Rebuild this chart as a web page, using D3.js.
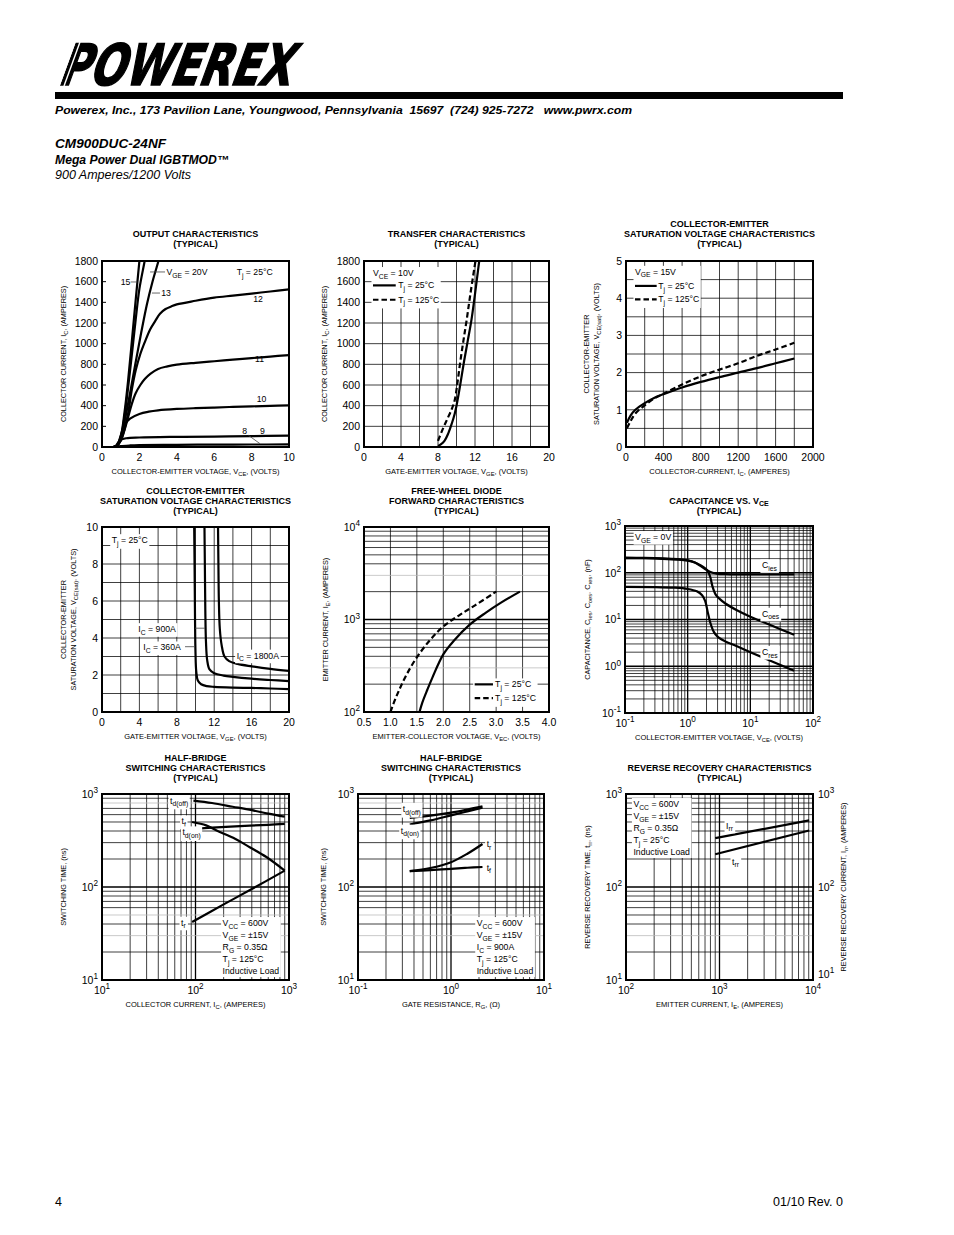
<!DOCTYPE html>
<meta charset="utf-8">
<style>
body{margin:0;background:#fff;}
svg{font-family:"Liberation Sans",Arial,Helvetica,sans-serif;}
text{white-space:pre;}
.title{font-size:9px;font-weight:bold;text-anchor:middle;}
.curve{fill:none;stroke:#000;stroke-width:2.2;stroke-linejoin:round;}
.dash{stroke-dasharray:5.5,3;}
.frame{fill:none;stroke:#000;stroke-width:2;}
.lead{stroke:#444;stroke-width:0.8;}
</style>
<body>
<script src="https://d3js.org/d3.v7.min.js"></script>
<script>
// ---- output characteristics (VCE, IC) ----
var outXTicks=[0,2,4,6,8,10];
var outYTicks=[0,200,400,600,800,1000,1200,1400,1600,1800];
var out20=[[0.6,0],[0.8,15],[1.0,100],[1.2,330],[1.4,650],[1.6,1030],[1.8,1420],[2.0,1800],[2.03,1860]];
var out15=[[0.6,0],[0.8,15],[1.0,90],[1.2,290],[1.4,580],[1.6,900],[1.8,1230],[2.0,1530],[2.28,1800],[2.32,1850]];
var out13=[[0.6,0],[0.8,15],[1.0,80],[1.2,240],[1.5,520],[1.8,820],[2.1,1110],[2.4,1380],[2.7,1600],[3.02,1800],[3.08,1840]];
var out12=[[0.6,0],[0.8,12],[1.0,60],[1.2,170],[1.4,330],[1.6,560],[1.8,740],[2.05,900],[2.3,1020],[2.58,1140],[2.85,1220],[3.1,1290],[3.4,1335],[3.7,1360],[4.0,1380],[5,1415],[6,1445],[7,1465],[8,1485],[9,1505],[10,1525]];
var out11=[[0.6,0],[0.8,12],[1.0,60],[1.2,160],[1.4,290],[1.6,420],[1.8,520],[2.05,600],[2.3,660],[2.6,710],[3.0,755],[3.5,780],[4.0,797],[5,815],[6,830],[7,845],[8,860],[9,875],[10,890]];
var out10=[[0.6,0],[0.8,15],[1.0,110],[1.2,215],[1.5,275],[2.0,320],[2.5,342],[3.0,355],[4,368],[5,376],[6,382],[7,388],[8,393],[9,398],[10,402]];
var out9=[[0.7,0],[0.85,40],[1.0,70],[1.3,85],[2,92],[4,98],[6,101],[8,105],[10,110]];
var out8=[[0.8,0],[1.0,8],[1.5,15],[2,18],[4,21],[6,23],[8,24],[10,25]];
var outLeaders=[[2.57,1694,3.37,1694],[1.53,1597,1.89,1597],[2.67,1490,3.1,1490],[7.83,113,8.45,32]];

// ---- transfer characteristics (VGE, IC) ----
var trXTicks=[0,4,8,12,16,20];
var trYTicks=[0,200,400,600,800,1000,1200,1400,1600,1800];
var tr25=[[8.0,10],[8.3,25],[8.7,60],[9.1,130],[9.5,230],[9.8,320],[10.0,400],[10.4,600],[10.8,820],[11.2,1020],[11.6,1220],[12.0,1480],[12.3,1690],[12.5,1830]];
var tr125=[[8.0,60],[8.5,170],[9.0,270],[9.5,370],[9.8,450],[10.1,620],[10.4,820],[10.75,1030],[11.1,1230],[11.5,1480],[12.05,1800],[12.1,1830]];

// ---- VCE(sat) vs IC ----
var satIXTicks=[0,400,800,1200,1600,2000];
var satIYTicks=[0,1,2,3,4,5];
var satI25=[[10,0.65],[50,0.85],[100,1.0],[200,1.18],[300,1.32],[400,1.42],[600,1.6],[800,1.75],[1000,1.88],[1200,2.0],[1400,2.12],[1600,2.25],[1800,2.38]];
var satI125=[[10,0.5],[50,0.7],[100,0.9],[200,1.12],[300,1.3],[400,1.43],[600,1.68],[800,1.9],[1000,2.08],[1200,2.25],[1400,2.45],[1600,2.62],[1800,2.8]];

// ---- VCE(sat) vs VGE ----
var satVXTicks=[0,4,8,12,16,20];
var satVYTicks=[0,2,4,6,8,10];
var satV360=[[9.85,10.5],[9.9,8],[9.95,5],[10.0,3.2],[10.08,2.2],[10.25,1.7],[10.6,1.5],[11.2,1.4],[12,1.36],[14,1.32],[16,1.3],[18,1.27],[20,1.24]];
var satV900=[[10.95,10.5],[11.0,8],[11.05,5.5],[11.12,3.8],[11.25,2.8],[11.5,2.3],[12,2.1],[13,1.97],[14,1.9],[16,1.8],[18,1.73],[20,1.67]];
var satV1800=[[12.4,10.5],[12.45,8],[12.5,6],[12.6,4.5],[12.8,3.6],[13.1,3.0],[13.6,2.75],[14.5,2.6],[16,2.47],[18,2.33],[20,2.22]];
var satVLeaders=[[9.95,4.53,11.0,4.53],[8.88,3.53,9.87,3.53]];

// ---- free-wheel diode forward (VEC, IE) ----
var fwdXTicks=[0.5,1.0,1.5,2.0,2.5,3.0,3.5,4.0];
var fwdYTicks=[100,1000,10000];
var fwdGrayRows=[300,3000];
var fwd25=[[1.55,100],[1.6,125],[1.7,175],[1.8,240],[2.0,420],[2.2,590],[2.5,880],[2.8,1180],[3.1,1530],[3.45,2000]];
var fwd125=[[1.0,100],[1.05,120],[1.15,165],[1.3,250],[1.5,390],[1.75,600],[2.0,840],[2.3,1110],[2.6,1420],[3.0,2000]];

// ---- capacitance vs VCE ----
var capXTicks=[0.1,1,10,100];
var capYTicks=[0.1,1,10,100,1000];
var capIes=[[0.1,210],[0.2,208],[0.4,203],[0.7,195],[1.0,185],[1.3,165],[1.6,140],[2.0,115],[2.5,100],[3.0,95],[4,93],[6,92],[10,92],[20,92],[50,92]];
var capOes=[[0.1,206],[0.2,204],[0.4,199],[0.7,191],[1.0,181],[1.3,165],[1.6,145],[1.9,125],[2.1,108],[2.3,80],[2.5,50],[2.8,34],[3.2,28],[4,22],[6,16],[10,11.5],[20,7.8],[50,4.7]];
var capRes=[[0.1,50],[0.3,49.5],[0.6,48],[1.0,45],[1.4,40],[1.7,33],[1.9,25],[2.1,14],[2.3,8.5],[2.6,5.5],[3.0,4.3],[4,3.4],[6,2.7],[10,2.0],[20,1.35],[50,0.8]];

// ---- switching time vs IC ----
var swXTicks=[10,100,1000];
var swYTicks=[10,100,1000];
var swGrayRows=[30,50,800];
var swTdoff=[[95,850],[150,800],[250,730],[400,670],[600,615],[900,570]];
var swTf=[[92,500],[130,460],[168,405],[253,338],[380,268],[573,210],[900,150]];
var swTdon=[[92,420],[150,435],[300,452],[600,466],[900,478]];
var swTr=[[92,42],[200,65],[400,95],[900,150]];

// ---- switching time vs RG ----
var rgXTicks=[0.1,1,10];
var rgTdoff=[[0.36,553],[0.6,585],[1.0,630],[1.5,680],[2.18,735]];
var rgTdon=[[0.36,470],[0.6,520],[1.0,590],[1.5,650],[2.18,712]];
var rgTr=[[0.36,148],[0.6,160],[1.0,185],[1.5,228],[2.18,290]];
var rgTf=[[0.36,148],[0.6,152],[1.0,157],[1.5,161],[2.18,164]];

// ---- reverse recovery ----
var rrXTicks=[100,1000,10000];
var rrYTicks=[10,100,1000];
var rrGrayRows=[30];
var rrIrr=[[900,335],[9100,520]];
var rrTrr=[[900,225],[9100,405]];

var svg=d3.select("body").append("svg").attr("width",954).attr("height",1235);
var clipN=0;

// text with _{sub} and ^{sup}
function rich(t,s,fs){
  var parts=s.split(/(_\{[^}]*\}|\^\{[^}]*\})/).filter(function(p){return p;});
  var cur=0;
  parts.forEach(function(p){
    var off=0,txt=p,small=false;
    if(p.indexOf("_{")==0){off=fs*0.3;txt=p.slice(2,-1);small=true;}
    else if(p.indexOf("^{")==0){off=-fs*0.42;txt=p.slice(2,-1);small=true;}
    var ts=t.append("tspan").text(txt);
    if(off-cur!=0) ts.attr("dy",off-cur);
    if(small) ts.attr("font-size",fs*0.78);
    cur=off;
  });
  return t;
}

function expLabel(d){ return "10^{"+Math.round(Math.log10(d))+"}"; }

function panel(p){
  var x=(p.xLog?d3.scaleLog():d3.scaleLinear()).domain(p.xDom).range([p.left,p.left+p.w]);
  var y=(p.yLog?d3.scaleLog():d3.scaleLinear()).domain(p.yDom).range([p.top+p.h,p.top]);
  var id="clip"+(clipN++);
  svg.append("clipPath").attr("id",id).append("rect")
     .attr("x",p.left).attr("y",p.top).attr("width",p.w).attr("height",p.h);
  var g=svg.append("g");
  var pn={x:x,y:y,p:p,grid:g.append("g"),curves:g.append("g").attr("clip-path","url(#"+id+")"),
          labels:g.append("g"),frame:g.append("g")};
  var major=function(d){var l=Math.log10(d);return Math.abs(l-Math.round(l))<1e-6;};
  var near=function(arr,d){return (arr||[]).some(function(v){return Math.abs(v-d)/v<1e-6;});};
  if(p.grid){
    var xs=(p.xLog?x.ticks():x.ticks(p.xGridN)).filter(function(d){return x(d)>p.left+0.5&&x(d)<p.left+p.w-0.5;});
    var ys=(p.yLog?y.ticks():y.ticks(p.yGridN)).filter(function(d){return y(d)<p.top+p.h-0.5&&y(d)>p.top+0.5;});
    pn.grid.selectAll(".gx").data(xs).join("line").attr("class","gx")
      .attr("x1",function(d){return x(d);}).attr("x2",function(d){return x(d);})
      .attr("y1",p.top).attr("y2",p.top+p.h).attr("stroke","#000")
      .attr("stroke-width",function(d){return p.xLog&&major(d)?1.3:0.75;});
    pn.grid.selectAll(".gy").data(ys).join("line").attr("class","gy")
      .attr("y1",function(d){return y(d);}).attr("y2",function(d){return y(d);})
      .attr("x1",p.left).attr("x2",p.left+p.w)
      .attr("stroke",function(d){return near(p.grayY,d)?"#b8b8b8":"#000";})
      .attr("stroke-width",function(d){return p.yLog&&major(d)?1.3:0.75;});
  }
  if(p.yInTicks){
    pn.grid.selectAll(".ti").data(p.yInTicks).join("line").attr("class","ti")
      .attr("x1",p.left).attr("x2",p.left+4).attr("y1",function(d){return y(d);}).attr("y2",function(d){return y(d);})
      .attr("stroke","#000").attr("stroke-width",1);
  }
  var fs=10.5;
  p.xTicks.forEach(function(d){
    var t=pn.frame.append("text").attr("x",x(d)).attr("y",p.top+p.h+13.5)
      .attr("text-anchor","middle").attr("font-size",fs);
    rich(t,p.xLog?expLabel(d):(p.xFmt?p.xFmt(d):String(d)),fs);
  });
  p.yTicks.forEach(function(d,i){
    var t=pn.frame.append("text").attr("x",p.left-4).attr("y",y(d)).attr("dy","0.36em")
      .attr("text-anchor","end").attr("font-size",fs);
    rich(t,p.yLog?expLabel(d):String(d),fs);
    if(p.rightAxis){
      // lowest right label sits a little above the corner, clear of the x labels
      var r=pn.frame.append("text").attr("x",p.left+p.w+5).attr("y",y(d)-(i==0?6:0)).attr("dy","0.36em")
        .attr("font-size",fs);
      rich(r,expLabel(d),fs);
    }
  });
  pn.frame.append("rect").attr("class","frame").attr("x",p.left).attr("y",p.top).attr("width",p.w).attr("height",p.h);
  // titles
  var cx=p.left+p.w/2;
  var n=p.title.length;
  p.title.forEach(function(s,i){
    var t=svg.append("text").attr("class","title").attr("x",cx).attr("y",p.titleBase-(n-1-i)*10);
    rich(t,s,9);
  });
  var xl=svg.append("text").attr("x",cx).attr("y",p.top+p.h+26.5).attr("text-anchor","middle").attr("font-size",7.5);
  rich(xl,p.xLabel,7.5);
  var cy=p.top+p.h/2;
  p.yLabel.forEach(function(s,i){
    var t=svg.append("text").attr("transform","translate("+(p.yLabelX+i*10+2.5)+","+cy+") rotate(-90)")
      .attr("text-anchor","middle").attr("font-size",7.3);
    rich(t,s,7.3);
  });
  if(p.rightLabel){
    var t=svg.append("text").attr("transform","translate("+(p.rightLabelX+2.5)+","+cy+") rotate(-90)")
      .attr("text-anchor","middle").attr("font-size",7.3);
    rich(t,p.rightLabel,7.3);
  }
  return pn;
}

var line=d3.line().curve(d3.curveCatmullRom.alpha(0.5));
function curve(pn,data,dashed){
  pn.curves.append("path").datum(data).attr("class","curve"+(dashed?" dash":""))
    .attr("d",line.x(function(d){return pn.x(d[0]);}).y(function(d){return pn.y(d[1]);}));
}
function boxIt(g){
  var b=g.node().getBBox();
  g.insert("rect",":first-child").attr("x",b.x-1.5).attr("y",b.y-1).attr("width",b.width+3).attr("height",b.height+2).attr("fill","#fff");
}
function note(pn,xv,yv,lines,o){
  o=o||{};
  var fs=o.fs||8.7,lh=o.lh||12;
  var g=pn.labels.append("g");
  lines.forEach(function(s,i){
    var t=g.append("text").attr("x",pn.x(xv)).attr("y",pn.y(yv)+i*lh).attr("dy","0.35em").attr("font-size",fs);
    rich(t,s,fs);
  });
  if(o.box) boxIt(g);
  return g;
}
function leader(pn,l){
  pn.labels.append("line").attr("class","lead")
    .attr("x1",pn.x(l[0])).attr("y1",pn.y(l[1])).attr("x2",pn.x(l[2])).attr("y2",pn.y(l[3]));
}
// legend: head line then rows of [yValue, text, dashed]
function legend(pn,x0,x1,xt,head,rows){
  var g=pn.labels.append("g");
  var t=g.append("text").attr("x",pn.x(x0)).attr("y",pn.y(head[1])).attr("dy","0.35em").attr("font-size",8.7);
  if(head[0]) rich(t,head[0],8.7);
  rows.forEach(function(r){
    g.append("line").attr("class","curve"+(r[2]?" dash":"")).attr("x1",pn.x(x0)).attr("x2",pn.x(x1))
      .attr("y1",pn.y(r[0])).attr("y2",pn.y(r[0]));
    var tt=g.append("text").attr("x",pn.x(xt)).attr("y",pn.y(r[0])).attr("dy","0.35em").attr("font-size",8.7);
    rich(tt,r[1],8.7);
  });
  boxIt(g);
}

// ---------- header ----------
svg.append("text").attr("transform","translate(57,85) skewX(-20)")
  .attr("font-family","DejaVu Sans").attr("font-weight","bold").attr("font-size",57)
  .attr("stroke","#000").attr("stroke-width",1.6)
  .attr("textLength",232).attr("lengthAdjust","spacingAndGlyphs").text("POWEREX");
[0,1,2,3,4].forEach(function(i){
  svg.append("line").attr("x1",44+i*5).attr("y1",86).attr("x2",60+i*5).attr("y2",42)
    .attr("stroke","#fff").attr("stroke-width",1.4);
});
svg.append("rect").attr("x",55).attr("y",92).attr("width",788).attr("height",7).attr("fill","#000");
svg.append("text").attr("x",55).attr("y",114).attr("font-size",11.5).attr("font-weight","bold").attr("font-style","italic")
  .attr("textLength",577).attr("lengthAdjust","spacingAndGlyphs")
  .text("Powerex, Inc., 173 Pavilion Lane, Youngwood, Pennsylvania  15697  (724) 925-7272   www.pwrx.com");
svg.append("text").attr("x",55).attr("y",148).attr("font-size",12).attr("font-weight","bold").attr("font-style","italic")
  .attr("textLength",111).attr("lengthAdjust","spacingAndGlyphs").text("CM900DUC-24NF");
svg.append("text").attr("x",55).attr("y",164).attr("font-size",12).attr("font-weight","bold").attr("font-style","italic")
  .attr("textLength",174).attr("lengthAdjust","spacingAndGlyphs").text("Mega Power Dual IGBTMOD\u2122");
svg.append("text").attr("x",55).attr("y",179).attr("font-size",12).attr("font-style","italic")
  .attr("textLength",136).attr("lengthAdjust","spacingAndGlyphs").text("900 Amperes/1200 Volts");
svg.append("text").attr("x",55).attr("y",1206).attr("font-size",12.5).text("4");
svg.append("text").attr("x",843).attr("y",1206).attr("font-size",12.5).attr("text-anchor","end")
  .attr("font-family","Liberation Sans Narrow, Liberation Sans").text("01/10 Rev. 0");

// ---------- 1 output characteristics ----------
var p1=panel({left:102,top:261,w:187,h:186,xDom:[0,10],yDom:[0,1800],xTicks:outXTicks,yTicks:outYTicks,yInTicks:outYTicks,
  title:["OUTPUT CHARACTERISTICS","(TYPICAL)"],titleBase:246.5,
  xLabel:"COLLECTOR-EMITTER VOLTAGE, V_{CE}, (VOLTS)",yLabel:["COLLECTOR CURRENT, I_{C}, (AMPERES)"],yLabelX:63});
[out20,out15,out13,out12,out11,out10,out9,out8].forEach(function(c){curve(p1,c);});
outLeaders.forEach(function(l){leader(p1,l);});
note(p1,3.45,1694,["V_{GE} = 20V"]);
note(p1,7.2,1694,["T_{j} = 25\u00b0C"]);
note(p1,1.0,1597,["15"]);
note(p1,3.17,1490,["13"]);
note(p1,8.09,1432,["12"]);
note(p1,8.18,854,["11"]);
note(p1,8.27,461,["10"]);
note(p1,7.5,152,["8"]);
note(p1,8.45,152,["9"]);

// ---------- 2 transfer ----------
var p2=panel({left:364,top:261,w:185,h:186,xDom:[0,20],yDom:[0,1800],xTicks:trXTicks,yTicks:trYTicks,grid:true,xGridN:10,yGridN:9,
  title:["TRANSFER CHARACTERISTICS","(TYPICAL)"],titleBase:246.5,
  xLabel:"GATE-EMITTER VOLTAGE, V_{GE}, (VOLTS)",yLabel:["COLLECTOR CURRENT, I_{C}, (AMPERES)"],yLabelX:324});
curve(p2,tr25);curve(p2,tr125,true);
legend(p2,0.97,3.43,3.7,["V_{CE} = 10V",1684],[[1564,"T_{j} = 25\u00b0C",false],[1425,"T_{j} = 125\u00b0C",true]]);

// ---------- 3 VCE(sat) vs IC ----------
var p3=panel({left:626,top:261,w:187,h:186,xDom:[0,2000],yDom:[0,5],xTicks:satIXTicks,yTicks:satIYTicks,grid:true,xGridN:10,yGridN:10,
  title:["COLLECTOR-EMITTER","SATURATION VOLTAGE CHARACTERISTICS","(TYPICAL)"],titleBase:247,
  xLabel:"COLLECTOR-CURRENT, I_{C}, (AMPERES)",yLabel:["COLLECTOR-EMITTER","SATURATION VOLTAGE, V_{CE(sat)}, (VOLTS)"],yLabelX:586});
curve(p3,satI25);curve(p3,satI125,true);
legend(p3,96,328,345,["V_{GE} = 15V",4.71],[[4.33,"T_{j} = 25\u00b0C",false],[3.97,"T_{j} = 125\u00b0C",true]]);

// ---------- 4 VCE(sat) vs VGE ----------
var p4=panel({left:102,top:527,w:187,h:185,xDom:[0,20],yDom:[0,10],xTicks:satVXTicks,yTicks:satVYTicks,grid:true,xGridN:10,yGridN:10,
  title:["COLLECTOR-EMITTER","SATURATION VOLTAGE CHARACTERISTICS","(TYPICAL)"],titleBase:513.5,
  xLabel:"GATE-EMITTER VOLTAGE, V_{GE}, (VOLTS)",yLabel:["COLLECTOR-EMITTER","SATURATION VOLTAGE, V_{CE(sat)}, (VOLTS)"],yLabelX:63});
curve(p4,satV360);curve(p4,satV900);curve(p4,satV1800);
satVLeaders.forEach(function(l){leader(p4,l);});
note(p4,1.04,9.29,["T_{j} = 25\u00b0C"],{box:true});
note(p4,3.89,4.48,["I_{C} = 900A"],{box:true});
note(p4,4.42,3.49,["I_{C} = 360A"],{box:true});
note(p4,14.4,3.05,["I_{C} = 1800A"],{box:true});

// ---------- 5 diode forward ----------
var p5=panel({left:364,top:527,w:185,h:185,xDom:[0.5,4],yDom:[100,10000],yLog:true,xTicks:fwdXTicks,yTicks:fwdYTicks,
  xFmt:d3.format(".1f"),grid:true,xGridN:7,grayY:fwdGrayRows,
  title:["FREE-WHEEL DIODE","FORWARD CHARACTERISTICS","(TYPICAL)"],titleBase:513.5,
  xLabel:"EMITTER-COLLECTOR VOLTAGE, V_{EC}, (VOLTS)",yLabel:["EMITTER CURRENT, I_{E}, (AMPERES)"],yLabelX:325});
curve(p5,fwd25);curve(p5,fwd125,true);
legend(p5,2.594,2.94,2.98,["",199],[[199,"T_{j} = 25\u00b0C",false],[141,"T_{j} = 125\u00b0C",true]]);

// ---------- 6 capacitance ----------
var p6=panel({left:625,top:526,w:188,h:187,xDom:[0.1,100],yDom:[0.1,1000],xLog:true,yLog:true,xTicks:capXTicks,yTicks:capYTicks,grid:true,
  title:["CAPACITANCE VS. V_{CE}","(TYPICAL)"],titleBase:513.5,
  xLabel:"COLLECTOR-EMITTER VOLTAGE, V_{CE}, (VOLTS)",yLabel:["CAPACITANCE, C_{ies}, C_{oes}, C_{res}, (nF)"],yLabelX:587});
curve(p6,capIes);curve(p6,capOes);curve(p6,capRes);
note(p6,0.145,582,["V_{GE} = 0V"],{box:true});
note(p6,15.3,145,["C_{ies}"],{box:true});
note(p6,15.3,13.3,["C_{oes}"],{box:true});
note(p6,15.3,2.02,["C_{res}"],{box:true});

// ---------- 7 switching vs IC ----------
var p7=panel({left:102,top:794,w:187,h:186,xDom:[10,1000],yDom:[10,1000],xLog:true,yLog:true,xTicks:swXTicks,yTicks:swYTicks,grid:true,grayY:swGrayRows,
  title:["HALF-BRIDGE","SWITCHING CHARACTERISTICS","(TYPICAL)"],titleBase:781,
  xLabel:"COLLECTOR CURRENT, I_{C}, (AMPERES)",yLabel:["SWITCHING TIME, (ns)"],yLabelX:63});
[swTdoff,swTf,swTdon,swTr].forEach(function(c){curve(p7,c);});
note(p7,53.5,848,["t_{d(off)}"],{box:true});
note(p7,71,508,["t_{f}"],{box:true});
note(p7,72.5,387,["t_{d(on)}"],{box:true});
note(p7,70,41.4,["t_{r}"],{box:true});
note(p7,195,41,["V_{CC} = 600V","V_{GE} = \u00b115V","R_{G} = 0.35\u03a9","T_{j} = 125\u00b0C","Inductive Load"],{box:true});

// ---------- 8 switching vs RG ----------
var p8=panel({left:358,top:794,w:186,h:186,xDom:[0.1,10],yDom:[10,1000],xLog:true,yLog:true,xTicks:rgXTicks,yTicks:swYTicks,grid:true,grayY:swGrayRows,
  title:["HALF-BRIDGE","SWITCHING CHARACTERISTICS","(TYPICAL)"],titleBase:781,
  xLabel:"GATE RESISTANCE, R_{G}, (\u03a9)",yLabel:["SWITCHING TIME, (ns)"],yLabelX:323});
[rgTdoff,rgTdon,rgTr,rgTf].forEach(function(c){curve(p8,c);});
note(p8,0.303,690,["t_{d(off)}"],{box:true});
note(p8,0.288,404,["t_{d(on)}"],{box:true});
note(p8,2.42,291,["t_{r}"],{box:true});
note(p8,2.42,161,["t_{f}"],{box:true});
note(p8,1.89,41,["V_{CC} = 600V","V_{GE} = \u00b115V","I_{C} = 900A","T_{j} = 125\u00b0C","Inductive Load"],{box:true});

// ---------- 9 reverse recovery ----------
var p9=panel({left:626,top:794,w:187,h:186,xDom:[100,10000],yDom:[10,1000],xLog:true,yLog:true,xTicks:rrXTicks,yTicks:rrYTicks,grid:true,grayY:rrGrayRows,
  rightAxis:true,title:["REVERSE RECOVERY CHARACTERISTICS","(TYPICAL)"],titleBase:781,
  xLabel:"EMITTER CURRENT, I_{E}, (AMPERES)",yLabel:["REVERSE RECOVERY TIME, t_{rr}, (ns)"],yLabelX:587,
  rightLabel:"REVERSE RECOVERY CURRENT, I_{rr}, (AMPERES)",rightLabelX:843});
curve(p9,rrIrr);curve(p9,rrTrr);
note(p9,1175,457,["I_{rr}"],{box:true});
note(p9,1361,188,["t_{rr}"],{box:true});
note(p9,120,781,["V_{CC} = 600V","V_{GE} = \u00b115V","R_{G} = 0.35\u03a9","T_{j} = 25\u00b0C","Inductive Load"],{box:true});
</script>
</body>
